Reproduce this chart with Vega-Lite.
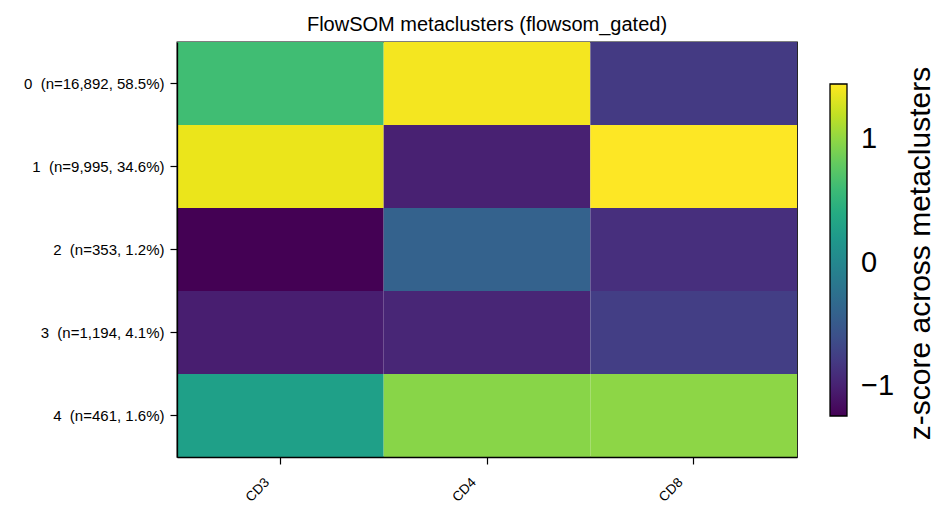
{
  "$schema": "https://vega.github.io/schema/vega-lite/v6.json",
  "width": 620,
  "height": 415,
  "autosize": {"type": "none"},
  "padding": {"left": 177, "top": 42, "right": 154, "bottom": 64},
  "background": "white",
  "title": {
    "text": "FlowSOM metaclusters (flowsom_gated)",
    "anchor": "middle",
    "fontSize": 20,
    "fontWeight": "normal",
    "font": "Liberation Sans",
    "color": "black",
    "offset": 7
  },
  "config": {
    "view": {"stroke": "black", "strokeWidth": 1.3},
    "font": "Liberation Sans"
  },
  "data": {
    "values": [
      {"cluster": "0\u00a0 (n=16,892, 58.5%)", "marker": "CD3", "z": 0.62},
      {"cluster": "0\u00a0 (n=16,892, 58.5%)", "marker": "CD4", "z": 1.41},
      {"cluster": "0\u00a0 (n=16,892, 58.5%)", "marker": "CD8", "z": -0.80},
      {"cluster": "1\u00a0 (n=9,995, 34.6%)", "marker": "CD3", "z": 1.37},
      {"cluster": "1\u00a0 (n=9,995, 34.6%)", "marker": "CD4", "z": -1.01},
      {"cluster": "1\u00a0 (n=9,995, 34.6%)", "marker": "CD8", "z": 1.45},
      {"cluster": "2\u00a0 (n=353, 1.2%)", "marker": "CD3", "z": -1.246},
      {"cluster": "2\u00a0 (n=353, 1.2%)", "marker": "CD4", "z": -0.42},
      {"cluster": "2\u00a0 (n=353, 1.2%)", "marker": "CD8", "z": -0.89},
      {"cluster": "3\u00a0 (n=1,194, 4.1%)", "marker": "CD3", "z": -1.03},
      {"cluster": "3\u00a0 (n=1,194, 4.1%)", "marker": "CD4", "z": -0.97},
      {"cluster": "3\u00a0 (n=1,194, 4.1%)", "marker": "CD8", "z": -0.76},
      {"cluster": "4\u00a0 (n=461, 1.6%)", "marker": "CD3", "z": 0.28},
      {"cluster": "4\u00a0 (n=461, 1.6%)", "marker": "CD4", "z": 0.97},
      {"cluster": "4\u00a0 (n=461, 1.6%)", "marker": "CD8", "z": 0.99}
    ]
  },
  "layer": [
    {
      "mark": {"type": "rect"},
      "encoding": {
        "x": {
          "field": "marker",
          "type": "nominal",
          "sort": null,
          "scale": {"paddingInner": 0, "paddingOuter": 0},
          "axis": {
            "title": null,
            "labelAngle": -45,
            "labelAlign": "right",
            "labelBaseline": "top",
            "labelFontSize": 13.5,
            "labelColor": "black",
            "labelPadding": 11,
            "labelOffset": -18,
            "tickColor": "black",
            "tickSize": 7,
            "tickWidth": 1.2,
            "domainColor": "black",
            "domainWidth": 1.3,
            "grid": false
          }
        },
        "y": {
          "field": "cluster",
          "type": "nominal",
          "sort": null,
          "scale": {"paddingInner": 0, "paddingOuter": 0},
          "axis": {
            "title": null,
            "labelFontSize": 15,
            "labelColor": "black",
            "labelPadding": 6,
            "tickColor": "black",
            "tickSize": 7,
            "tickWidth": 1.2,
            "domainColor": "black",
            "domainWidth": 1.3,
            "grid": false
          }
        },
        "color": {
          "field": "z",
          "type": "quantitative",
          "scale": {"scheme": "viridis", "domain": [-1.246, 1.45]},
          "legend": {
            "orient": "none",
            "legendX": 653,
            "legendY": 42,
            "direction": "vertical",
            "gradientLength": 332,
            "gradientThickness": 17,
            "gradientStrokeColor": "black",
            "gradientStrokeWidth": 1.3,
            "values": [-1, 0, 1],
            "format": "d",
            "labelFontSize": 29,
            "labelColor": "black",
            "labelOffset": 14,
            "title": null
          }
        }
      }
    },
    {
      "mark": {"type": "rect", "opacity": 0},
      "encoding": {
        "x": {"field": "marker", "type": "nominal", "sort": null},
        "y": {
          "field": "cluster",
          "type": "nominal",
          "sort": null,
          "axis": {
            "orient": "right",
            "labels": false,
            "ticks": false,
            "domain": false,
            "grid": false,
            "title": "z-score across metaclusters",
            "titleAngle": 270,
            "titleX": 132,
            "titleY": 211,
            "titleAlign": "center",
            "titleBaseline": "alphabetic",
            "titleFontSize": 30,
            "titleFontWeight": "normal",
            "titleColor": "black",
            "titleLimit": 600
          }
        }
      }
    }
  ],
  "resolve": {"axis": {"y": "independent"}}
}
